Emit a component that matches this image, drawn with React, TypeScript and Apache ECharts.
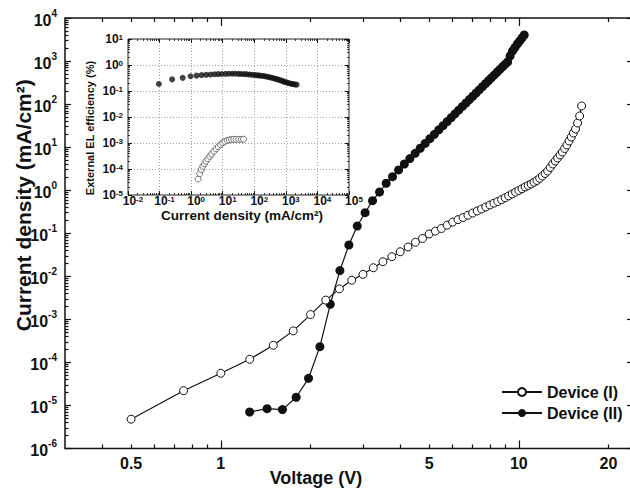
import React, { useEffect, useRef } from "react";
import * as echarts from "echarts";

// ---------- data ----------
const deviceIVoltage = [
  0.5, 0.75, 1.0, 1.25, 1.5, 1.75, 2.0, 2.25, 2.5, 2.75, 3.0, 3.25, 3.5, 3.75, 4.0, 4.25,
  4.5, 4.75, 5.0, 5.25, 5.5, 5.75, 6.0, 6.25, 6.5, 6.75, 7.0, 7.25, 7.5, 7.75, 8.0, 8.25,
  8.5, 8.75, 9.0, 9.25, 9.5, 9.75, 10.0, 10.25, 10.5, 10.75, 11.0, 11.25, 11.5, 11.75, 12.0, 12.25,
  12.5, 12.75, 13.0, 13.25, 13.5, 13.75, 14.0, 14.25, 14.5, 14.75, 15.0, 15.25, 15.5, 15.75, 16.0, 16.25,
];
const deviceICurrent = [
  4.8e-6, 2.2e-5, 5.6e-5, 1.18e-4, 2.5e-4, 5.4e-4, 1.29e-3, 2.8e-3, 5.1e-3, 8.1e-3, 0.0111, 0.0158, 0.0218, 0.0285, 0.0372, 0.048,
  0.0617, 0.0755, 0.0961, 0.112, 0.129, 0.154, 0.182, 0.207, 0.232, 0.262, 0.295, 0.329, 0.366, 0.407, 0.453, 0.499,
  0.547, 0.605, 0.666, 0.738, 0.817, 0.899, 0.984, 1.08, 1.19, 1.29, 1.39, 1.53, 1.68, 1.89, 2.14, 2.44,
  2.79, 3.37, 4.06, 4.77, 5.6, 6.57, 7.71, 9.31, 11.2, 13.9, 17.2, 21.3, 26.4, 36.4, 53.0, 90.4,
];
const deviceIIVoltage = [
  1.25, 1.43, 1.61, 1.79, 1.97, 2.15, 2.33, 2.51, 2.69, 2.87, 3.05, 3.23, 3.41, 3.59, 3.77, 3.95,
  4.13, 4.31, 4.49, 4.67, 4.85, 5.03, 5.21, 5.39, 5.57, 5.75, 5.93, 6.11, 6.29, 6.47, 6.65, 6.83,
  7.01, 7.19, 7.37, 7.55, 7.73, 7.91, 8.09, 8.27, 8.45, 8.63, 8.81, 8.99, 9.17, 9.35, 9.53, 9.71,
  9.89, 10.07, 10.25, 10.43,
];
const deviceIICurrent = [
  7.05e-6, 8.4e-6, 8.0e-6, 1.55e-5, 4.27e-5, 2.32e-4, 2.24e-3, 0.0136, 0.0533, 0.147, 0.3, 0.57, 0.908, 1.45, 2.06, 2.95,
  4.06, 5.44, 7.2, 9.42, 12.2, 15.7, 19.9, 25.2, 31.6, 39.3, 48.5, 59.4, 72.6, 88.1, 106, 128,
  152, 181, 215, 254, 298, 349, 407, 473, 549, 634, 731, 840, 951, 1309, 1711, 2065,
  2490, 2924, 3430, 4030,
];

// inset: external EL efficiency (%) vs current density (mA/cm2)
const insetDeviceIJ = [
  1.66, 1.86, 2.09, 2.34, 2.63, 2.95, 3.39, 3.89, 4.47, 5.25, 6.17, 7.24, 8.51, 10.0, 11.7, 13.8,
  16.2, 19.1, 22.4, 26.9, 32.4, 38.9, 45.7,
];
const insetDeviceIEqe = [
  4.1e-5, 6.6e-5, 9.5e-5, 1.26e-4, 1.58e-4, 2.0e-4, 2.5e-4, 3.1e-4, 3.8e-4, 4.8e-4, 6.0e-4, 7.2e-4, 8.7e-4, 1.02e-3, 1.15e-3, 1.26e-3,
  1.32e-3, 1.35e-3, 1.38e-3, 1.38e-3, 1.38e-3, 1.38e-3, 1.4e-3,
];
const insetDeviceIIJ = [
  0.095, 0.25, 0.54, 0.96, 1.48, 2.14, 3.0, 4.1, 5.5, 7.2, 9.3, 12.3, 15.8, 20, 25, 32,
  39, 49, 59, 72, 89, 107, 129, 151, 182, 214, 251, 295, 347, 407, 468, 550,
  631, 724, 832, 955, 1096, 1259, 1445, 1660, 1905, 2188,
];
const insetDeviceIIEqe = [
  0.186, 0.28, 0.32, 0.37, 0.39, 0.41, 0.42, 0.43, 0.44, 0.445, 0.45, 0.455, 0.46, 0.46, 0.46, 0.455,
  0.45, 0.445, 0.44, 0.43, 0.42, 0.41, 0.4, 0.39, 0.38, 0.37, 0.355, 0.34, 0.325, 0.31, 0.295, 0.28,
  0.265, 0.25, 0.235, 0.22, 0.21, 0.2, 0.19, 0.185, 0.18, 0.175,
];

// ---------- axis ticks / labels ----------
const xLabelValues = [0.5, 1, 5, 10, 20];
const xMajorTickValues = [1, 10];
const xMinorTickValues = [0.4, 0.5, 0.6, 0.7, 0.8, 0.9, 2, 3, 4, 5, 6, 7, 8, 9, 20];
const xRange = [0.3, 23.8];
const yDecades = [-6, -5, -4, -3, -2, -1, 0, 1, 2, 3, 4];
const insetXDecades = [-2, -1, 0, 1, 2, 3, 4, 5];
const insetYDecades = [-5, -4, -3, -2, -1, 0, 1];
const minorMultipliers = [2, 3, 4, 5, 6, 7, 8, 9];

const lg = Math.log10;
const FONT = "'Liberation Sans', Arial, Helvetica, sans-serif";
const INK = "#111";

const minorsOf = (decades: number[]) =>
  decades.slice(0, -1).flatMap((n) => minorMultipliers.map((k) => n + lg(k)));

const tickStyle = { color: INK, width: 1.2 };

function tickAxis(gridIndex: number, position: string, min: number, max: number, values: number[], length: number, width = 1.2) {
  return {
    type: "value",
    gridIndex,
    position,
    min,
    max,
    axisLine: { show: false, onZero: false },
    axisTick: { show: true, inside: true, length, customValues: values, lineStyle: { color: INK, width } },
    axisLabel: { show: false },
    splitLine: { show: false },
    silent: true,
  };
}

const powLabel = (v: number) => `{b|10}{s|${Math.round(v)}}`;

export default function App() {
  const ref = useRef<HTMLDivElement>(null);
  useEffect(() => {
    const chart = echarts.init(ref.current!, null, { renderer: "svg" });
    const xMin = lg(xRange[0]);
    const xMax = lg(xRange[1]);
    const yMin = yDecades[0];
    const yMax = yDecades[yDecades.length - 1];
    const ixMin = insetXDecades[0];
    const ixMax = insetXDecades[insetXDecades.length - 1];
    const iyMin = insetYDecades[0];
    const iyMax = insetYDecades[insetYDecades.length - 1];

    const mainRich = {
      b: { fontFamily: FONT, fontSize: 16, fontWeight: "bold", color: INK, lineHeight: 20, verticalAlign: "bottom" },
      s: { fontFamily: FONT, fontSize: 10, fontWeight: "bold", color: INK, lineHeight: 10, verticalAlign: "top" },
    };
    const insetRich = {
      b: { fontFamily: FONT, fontSize: 12, fontWeight: "bold", color: INK, lineHeight: 12, verticalAlign: "bottom" },
      s: { fontFamily: FONT, fontSize: 8, fontWeight: "bold", color: INK, lineHeight: 7, verticalAlign: "top" },
    };

    const option: any = {
      animation: false,
      backgroundColor: "#fff",
      grid: [
        { left: 65, top: 18, width: 566, height: 430.5, outerBoundsMode: "none", containLabel: false, show: true, borderColor: INK, borderWidth: 1.5, backgroundColor: "transparent" },
        { left: 128, top: 39, width: 221, height: 156, outerBoundsMode: "none", containLabel: false, show: true, borderColor: "#222", borderWidth: 1, backgroundColor: "#fff" },
      ],
      legend: {
        data: ["Device (I)", "Device (II)"],
        orient: "vertical",
        left: 496,
        top: 379,
        itemWidth: 40,
        itemHeight: 10,
        itemGap: 5,
        textStyle: { fontFamily: FONT, fontSize: 16, fontWeight: "bold", color: INK, lineHeight: 16 },
      },
      xAxis: [
        {
          type: "value",
          gridIndex: 0,
          position: "bottom",
          min: xMin,
          max: xMax,
          axisLine: { show: false, onZero: false },
          axisTick: { show: true, inside: true, length: 8, customValues: xMajorTickValues.map(lg), lineStyle: tickStyle },
          axisLabel: {
            show: true,
            customValues: xLabelValues.map(lg),
            formatter: (v: number) => String(Number(Math.pow(10, v).toPrecision(3))),
            fontFamily: FONT,
            fontSize: 16,
            fontWeight: "bold",
            color: INK,
            margin: 7,
          },
          splitLine: { show: false },
          name: "Voltage (V)",
          nameLocation: "middle",
          nameGap: 20,
          nameMoveOverlap: false,
          nameTextStyle: { fontFamily: FONT, fontSize: 18, fontWeight: "bold", color: INK, padding: [0, 64, 0, 0], verticalAlign: "top" },
        },
        tickAxis(0, "bottom", xMin, xMax, xMinorTickValues.map(lg), 4),
        tickAxis(0, "top", xMin, xMax, xMajorTickValues.map(lg), 8),
        tickAxis(0, "top", xMin, xMax, xMinorTickValues.map(lg), 4),
        {
          type: "value",
          gridIndex: 1,
          position: "bottom",
          min: ixMin,
          max: ixMax,
          interval: 1,
          axisLine: { show: false, onZero: false },
          axisTick: { show: true, inside: true, length: 4, lineStyle: { color: INK, width: 1 } },
          axisLabel: { show: true, formatter: powLabel, rich: insetRich, margin: 0, padding: [0, 0, 0, 10] },
          splitLine: { show: true, lineStyle: { color: "#888", width: 0.8, type: [1, 2] } },
          name: "Current density (mA/cm²)",
          nameLocation: "middle",
          nameGap: 14,
          nameMoveOverlap: false,
          nameTextStyle: { fontFamily: FONT, fontSize: 13.5, fontWeight: "bold", color: INK, padding: [0, 0, 0, 7], verticalAlign: "top", lineHeight: 13 },
        },
        tickAxis(1, "bottom", ixMin, ixMax, minorsOf(insetXDecades), 2, 0.8),
        tickAxis(1, "top", ixMin, ixMax, insetXDecades, 4, 1),
        tickAxis(1, "top", ixMin, ixMax, minorsOf(insetXDecades), 2, 0.8),
      ],
      yAxis: [
        {
          type: "value",
          gridIndex: 0,
          position: "left",
          min: yMin,
          max: yMax,
          interval: 1,
          axisLine: { show: false, onZero: false },
          axisTick: { show: true, inside: true, length: 6, lineStyle: tickStyle },
          axisLabel: { show: true, formatter: powLabel, rich: mainRich, margin: 8 },
          splitLine: { show: false },
          name: "Current density (mA/cm²)",
          nameLocation: "middle",
          nameRotate: 90,
          nameGap: 31,
          nameMoveOverlap: false,
          nameTextStyle: { fontFamily: FONT, fontSize: 21, fontWeight: "bold", color: INK, padding: [0, 0, 0, 56] },
        },
        tickAxis(0, "left", yMin, yMax, minorsOf(yDecades), 3.5),
        tickAxis(0, "right", yMin, yMax, yDecades, 4),
        {
          type: "value",
          gridIndex: 1,
          position: "left",
          min: iyMin,
          max: iyMax,
          interval: 1,
          axisLine: { show: false, onZero: false },
          axisTick: { show: true, inside: true, length: 4, lineStyle: { color: INK, width: 1 } },
          axisLabel: { show: true, formatter: powLabel, rich: insetRich, margin: 5 },
          splitLine: { show: true, lineStyle: { color: "#888", width: 0.8, type: [1, 2] } },
          name: "External EL efficiency (%)",
          nameLocation: "middle",
          nameRotate: 90,
          nameGap: 33,
          nameMoveOverlap: false,
          nameTextStyle: { fontFamily: FONT, fontSize: 11, fontWeight: "bold", color: INK, padding: [0, 22, 0, 0] },
        },
        tickAxis(1, "left", iyMin, iyMax, minorsOf(insetYDecades), 2, 0.8),
        tickAxis(1, "right", iyMin, iyMax, insetYDecades, 4, 1),
        tickAxis(1, "right", iyMin, iyMax, minorsOf(insetYDecades), 2, 0.8),
      ],
      series: [
        {
          name: "Device (I)",
          type: "line",
          xAxisIndex: 0,
          yAxisIndex: 0,
          data: deviceIVoltage.map((v, i) => [lg(v), lg(deviceICurrent[i])]),
          symbol: "circle",
          symbolSize: 8,
          showAllSymbol: true,
          lineStyle: { color: INK, width: 1.2 },
          itemStyle: { color: "#fff", borderColor: INK, borderWidth: 1 },
          z: 3,
        },
        {
          name: "Device (II)",
          type: "line",
          xAxisIndex: 0,
          yAxisIndex: 0,
          data: deviceIIVoltage.map((v, i) => [lg(v), lg(deviceIICurrent[i])]),
          symbol: "circle",
          symbolSize: 9,
          showAllSymbol: true,
          lineStyle: { color: INK, width: 1.2 },
          itemStyle: { color: INK, borderColor: INK, borderWidth: 0 },
          z: 2,
        },
        {
          name: "inset I",
          type: "scatter",
          xAxisIndex: 4,
          yAxisIndex: 3,
          data: insetDeviceIJ.map((j, i) => [lg(j), lg(insetDeviceIEqe[i])]),
          symbol: "circle",
          symbolSize: 6,
          itemStyle: { color: "#fff", borderColor: "#333", borderWidth: 0.8 },
        },
        {
          name: "inset II",
          type: "scatter",
          xAxisIndex: 4,
          yAxisIndex: 3,
          data: insetDeviceIIJ.map((j, i) => [lg(j), lg(insetDeviceIIEqe[i])]),
          symbol: "circle",
          symbolSize: 6,
          itemStyle: { color: INK },
        },
      ],
    };
    chart.setOption(option);
    return () => chart.dispose();
  }, []);
  return <div ref={ref} style={{ position: "absolute", left: 0, top: 0, width: 630, height: 488 }} />;
}
